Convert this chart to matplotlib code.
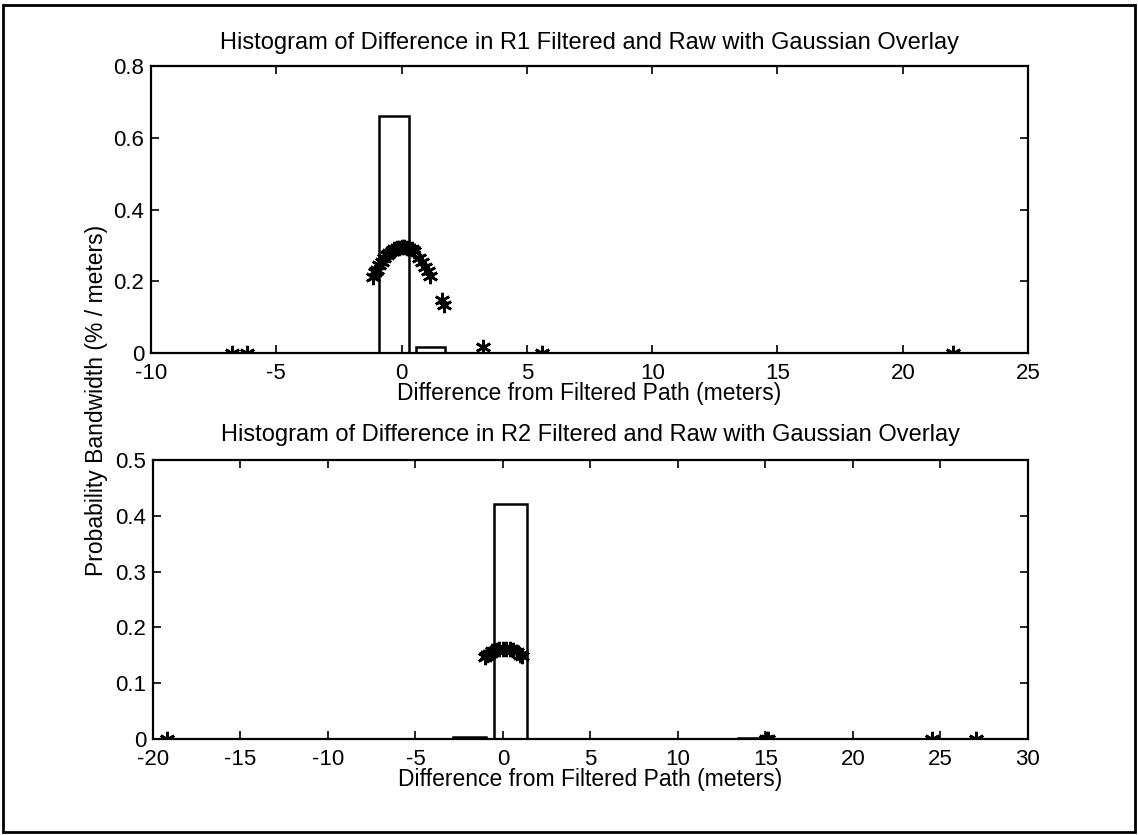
import matplotlib
matplotlib.use('Agg')
import matplotlib.pyplot as plt
from matplotlib.patches import Rectangle

plt.rcParams['font.family'] = ['Liberation Sans', 'DejaVu Sans']
plt.rcParams['font.size'] = 16

# R1 histogram (bin centres and heights)
r1_centers = [-6.17, -4.71, -3.24, -1.78, -0.31, 1.15, 2.62, 4.08, 5.55, 7.01,
              8.48, 9.94, 11.41, 12.87, 14.34, 15.80, 17.27, 18.73, 20.20, 21.66]
r1_heights = [0.0014, 0, 0, 0, 0.66, 0.017, 0.0007, 0, 0.0007, 0,
              0, 0, 0, 0, 0, 0, 0, 0, 0, 0.0007]
r1_bin_width = 1.465

# R1 gaussian overlay points
r1_gx = [-6.77, -6.17, -1.13, -1.05, -1.0, -0.9, -0.8, -0.7, -0.6, -0.5, -0.4, -0.3,
         -0.2, -0.1, 0.0, 0.1, 0.2, 0.3, 0.4, 0.5, 0.7, 0.8, 0.95, 1.05, 1.13,
         1.6, 1.7, 3.26, 5.6, 22.0]
r1_gy = [0.0, 0.0, 0.213, 0.225, 0.232, 0.245, 0.255, 0.264, 0.272, 0.279, 0.284, 0.289,
         0.292, 0.294, 0.295, 0.295, 0.294, 0.292, 0.289, 0.285, 0.265, 0.255, 0.24, 0.228, 0.215,
         0.148, 0.135, 0.017, 0.0, 0.0]

# R2 histogram
r2_centers = [-18.14, -15.82, -13.50, -11.18, -8.86, -6.54, -4.22, -1.90, 0.42, 2.74,
              5.06, 7.38, 9.70, 12.02, 14.34, 16.66, 18.98, 21.30, 23.62, 25.94]
r2_heights = [0.0005, 0, 0, 0, 0, 0, 0, 0.003, 0.422, 0,
              0, 0, 0, 0, 0.002, 0, 0, 0, 0.0005, 0.0005]
r2_bin_width = 2.32

# R2 gaussian overlay points
r2_gx = [-19.2, -1.03, -0.9, -0.8, -0.6, -0.4, -0.2, 0.0, 0.2, 0.4, 0.6, 0.8, 0.95, 1.07,
         15.05, 15.15, 24.5, 27.05]
r2_gy = [0.0, 0.147, 0.15, 0.153, 0.157, 0.16, 0.161, 0.162, 0.162, 0.161, 0.159, 0.155, 0.151, 0.148,
         0.0, 0.0, 0.0, 0.0]

titles = ['Histogram of Difference in R1 Filtered and Raw with Gaussian Overlay',
          'Histogram of Difference in R2 Filtered and Raw with Gaussian Overlay']
xlabel = 'Difference from Filtered Path (meters)'
ylabel = 'Probability Bandwidth (% / meters)'

fig = plt.figure(figsize=(11.38, 8.35), dpi=100)
ax1 = fig.add_axes([0.1327, 0.5772, 0.7707, 0.3437])
ax2 = fig.add_axes([0.1344, 0.1150, 0.7689, 0.3341])

def style(ax, xlim, xt, ylim, yt, ylabels):
    ax.set_xlim(xlim)
    ax.set_ylim(ylim)
    ax.set_xticks(xt)
    ax.set_xticklabels([str(v) for v in xt])
    ax.set_yticks(yt)
    ax.set_yticklabels(ylabels)
    ax.tick_params(direction='in', length=6, width=1.2, top=True, right=True)
    ax.tick_params(axis='x', pad=7)
    ax.tick_params(axis='y', pad=5)
    for s in ax.spines.values():
        s.set_linewidth(1.6)
    ax.get_yticklabels()[0].set_verticalalignment('center_baseline')

ax1.bar(r1_centers, r1_heights, width=0.8 * r1_bin_width, fill=False,
        edgecolor='black', linewidth=1.8)
ax1.plot(r1_gx, r1_gy, linestyle='none', marker=(6, 2, 0), markersize=11,
         markeredgewidth=1.9, color='black')
style(ax1, (-10, 25), list(range(-10, 30, 5)), (0, 0.8),
      [0, 0.2, 0.4, 0.6, 0.8], ['0', '0.2', '0.4', '0.6', '0.8'])
ax1.set_title(titles[0], fontsize=17, pad=12)
ax1.set_xlabel(xlabel, fontsize=16.5, labelpad=-1)

ax2.bar(r2_centers, r2_heights, width=0.8 * r2_bin_width, fill=False,
        edgecolor='black', linewidth=1.8)
ax2.plot(r2_gx, r2_gy, linestyle='none', marker=(6, 2, 0), markersize=11,
         markeredgewidth=1.9, color='black')
style(ax2, (-20, 30), list(range(-20, 35, 5)), (0, 0.5),
      [0, 0.1, 0.2, 0.3, 0.4, 0.5], ['0', '0.1', '0.2', '0.3', '0.4', '0.5'])
ax2.set_title(titles[1], fontsize=17, pad=14)
ax2.set_xlabel(xlabel, fontsize=16.5, labelpad=-1)

fig.text(0.085, 0.52, ylabel, rotation=90, ha='center', va='center', fontsize=16.5)

# scanned page border
fig.patches.append(Rectangle((0.003, 0.004), 0.994, 0.99, transform=fig.transFigure,
                             fill=False, edgecolor='black', linewidth=2))

fig.savefig('out.png', dpi=100)
